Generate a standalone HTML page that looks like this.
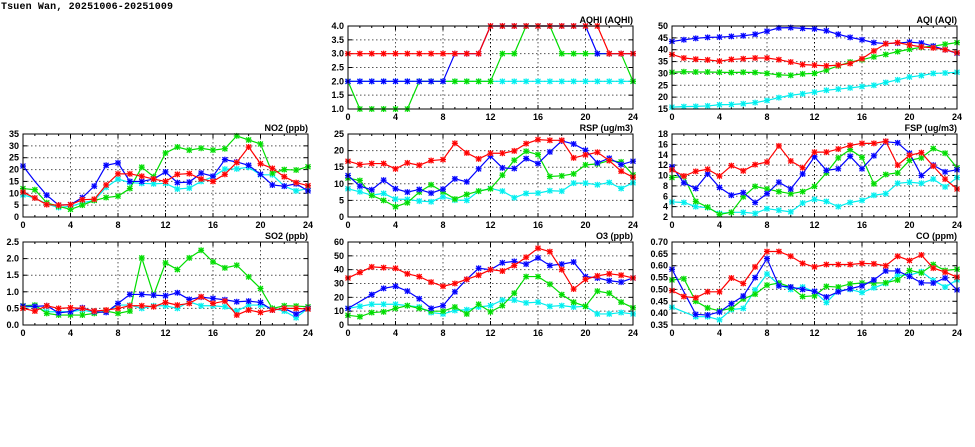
<!DOCTYPE html>
<html><head><meta charset="utf-8"><style>
html,body{margin:0;padding:0;background:#fff;width:975px;height:447px;overflow:hidden}
svg text{font-family:"Liberation Sans",sans-serif;font-weight:bold;font-size:9px;fill:#000}
.t{font-family:"Liberation Mono",monospace;font-size:10px}
</style></head><body>
<svg id="s" width="975" height="447" xmlns="http://www.w3.org/2000/svg">
<text class="t" x="1" y="9" textLength="172">Tsuen Wan, 20251006-20251009</text>
<g id="p0" transform="translate(348,26)"><text x="285" y="-3" text-anchor="end">AQHI (AQHI)</text>
<g text-anchor="end"><text x="-4" y="3">4.0</text><text x="-4" y="16.8">3.5</text><text x="-4" y="30.7">3.0</text><text x="-4" y="44.5">2.5</text><text x="-4" y="58.3">2.0</text><text x="-4" y="72.2">1.5</text><text x="-4" y="86">1.0</text></g>
<g text-anchor="middle"><text x="0" y="94">0</text><text x="47.5" y="94">4</text><text x="95" y="94">8</text><text x="142.5" y="94">12</text><text x="190" y="94">16</text><text x="237.5" y="94">20</text><text x="285" y="94">24</text></g></g>
<g id="p1" transform="translate(672,26)"><text x="285" y="-3" text-anchor="end">AQI (AQI)</text>
<g text-anchor="end"><text x="-4" y="3">50</text><text x="-4" y="14.9">45</text><text x="-4" y="26.7">40</text><text x="-4" y="38.6">35</text><text x="-4" y="50.4">30</text><text x="-4" y="62.3">25</text><text x="-4" y="74.1">20</text><text x="-4" y="86">15</text></g>
<g text-anchor="middle"><text x="0" y="94">0</text><text x="47.5" y="94">4</text><text x="95" y="94">8</text><text x="142.5" y="94">12</text><text x="190" y="94">16</text><text x="237.5" y="94">20</text><text x="285" y="94">24</text></g></g>
<g id="p2" transform="translate(23,134)"><text x="285" y="-3" text-anchor="end">NO2 (ppb)</text>
<g text-anchor="end"><text x="-4" y="3">35</text><text x="-4" y="14.9">30</text><text x="-4" y="26.7">25</text><text x="-4" y="38.6">20</text><text x="-4" y="50.4">15</text><text x="-4" y="62.3">10</text><text x="-4" y="74.1">5</text><text x="-4" y="86">0</text></g>
<g text-anchor="middle"><text x="0" y="94">0</text><text x="47.5" y="94">4</text><text x="95" y="94">8</text><text x="142.5" y="94">12</text><text x="190" y="94">16</text><text x="237.5" y="94">20</text><text x="285" y="94">24</text></g></g>
<g id="p3" transform="translate(348,134)"><text x="285" y="-3" text-anchor="end">RSP (ug/m3)</text>
<g text-anchor="end"><text x="-4" y="3">25</text><text x="-4" y="19.6">20</text><text x="-4" y="36.2">15</text><text x="-4" y="52.8">10</text><text x="-4" y="69.4">5</text><text x="-4" y="86">0</text></g>
<g text-anchor="middle"><text x="0" y="94">0</text><text x="47.5" y="94">4</text><text x="95" y="94">8</text><text x="142.5" y="94">12</text><text x="190" y="94">16</text><text x="237.5" y="94">20</text><text x="285" y="94">24</text></g></g>
<g id="p4" transform="translate(672,134)"><text x="285" y="-3" text-anchor="end">FSP (ug/m3)</text>
<g text-anchor="end"><text x="-4" y="3">18</text><text x="-4" y="13.4">16</text><text x="-4" y="23.8">14</text><text x="-4" y="34.1">12</text><text x="-4" y="44.5">10</text><text x="-4" y="54.9">8</text><text x="-4" y="65.3">6</text><text x="-4" y="75.6">4</text><text x="-4" y="86">2</text></g>
<g text-anchor="middle"><text x="0" y="94">0</text><text x="47.5" y="94">4</text><text x="95" y="94">8</text><text x="142.5" y="94">12</text><text x="190" y="94">16</text><text x="237.5" y="94">20</text><text x="285" y="94">24</text></g></g>
<g id="p5" transform="translate(23,242)"><text x="285" y="-3" text-anchor="end">SO2 (ppb)</text>
<g text-anchor="end"><text x="-4" y="3">2.5</text><text x="-4" y="19.6">2.0</text><text x="-4" y="36.2">1.5</text><text x="-4" y="52.8">1.0</text><text x="-4" y="69.4">0.5</text><text x="-4" y="86">0.0</text></g>
<g text-anchor="middle"><text x="0" y="94">0</text><text x="47.5" y="94">4</text><text x="95" y="94">8</text><text x="142.5" y="94">12</text><text x="190" y="94">16</text><text x="237.5" y="94">20</text><text x="285" y="94">24</text></g></g>
<g id="p6" transform="translate(348,242)"><text x="285" y="-3" text-anchor="end">O3 (ppb)</text>
<g text-anchor="end"><text x="-4" y="3">60</text><text x="-4" y="16.8">50</text><text x="-4" y="30.7">40</text><text x="-4" y="44.5">30</text><text x="-4" y="58.3">20</text><text x="-4" y="72.2">10</text><text x="-4" y="86">0</text></g>
<g text-anchor="middle"><text x="0" y="94">0</text><text x="47.5" y="94">4</text><text x="95" y="94">8</text><text x="142.5" y="94">12</text><text x="190" y="94">16</text><text x="237.5" y="94">20</text><text x="285" y="94">24</text></g></g>
<g id="p7" transform="translate(672,242)"><text x="285" y="-3" text-anchor="end">CO (ppm)</text>
<g text-anchor="end"><text x="-4" y="3">0.70</text><text x="-4" y="14.9">0.65</text><text x="-4" y="26.7">0.60</text><text x="-4" y="38.6">0.55</text><text x="-4" y="50.4">0.50</text><text x="-4" y="62.3">0.45</text><text x="-4" y="74.1">0.40</text><text x="-4" y="86">0.35</text></g>
<g text-anchor="middle"><text x="0" y="94">0</text><text x="47.5" y="94">4</text><text x="95" y="94">8</text><text x="142.5" y="94">12</text><text x="190" y="94">16</text><text x="237.5" y="94">20</text><text x="285" y="94">24</text></g></g>
</svg>
<script>
var W=285,H=83,NS="http://www.w3.org/2000/svg";
var C={b:"#0000ff",g:"#00dd00",r:"#ff0000",c:"#00eeee"},L={b:"#9999ff",g:"#99ee99",r:"#ff9999",c:"#99ffff"};
var P=[
[1,4,6,{g:[2,1,1,1,1,1,2,2,2,2,2,2,2,3,3,4,4,4,3,3,3,3,3,3,2],c:[2,2,2,2,2,2,2,2,2,2,2,2,2,2,2,2,2,2,2,2,2,2,2,2,2],b:[2,2,2,2,2,2,2,2,2,3,3,3,4,4,4,4,4,4,4,4,4,3,3,3,3],r:[3,3,3,3,3,3,3,3,3,3,3,3,4,4,4,4,4,4,4,4,4,4,3,3,3]},{}],
[15,50,7,{c:[15.8,16,16.1,16.3,16.8,16.9,17.2,17.7,18.6,19.8,20.8,21.4,22.1,22.9,23.4,23.9,24.5,25,26.2,27.3,28.5,29.1,30,30.2,30.5],g:[30.5,30.7,30.6,30.6,30.5,30.4,30.5,30.4,30,29.4,29.2,29.8,30,31.4,33.2,34.8,35.8,37,38,39.2,40.2,41,41.5,42.3,43],r:[38,36.5,36,35.7,35.2,35.9,36.2,36.5,36.5,35.8,34.8,33.7,33.5,33.2,33.5,34.2,36.2,39.5,42.5,43,42,41.2,40.8,40,38.7],b:[43.5,44.2,44.8,45.2,45.3,45.6,45.9,46.5,47.8,49.2,49.3,49,48.8,48,46.5,45.2,44.2,43,42.6,42.8,43.2,42.8,41.5,40,38.5]},{}],
[0,35,7,{c:[9.3,8,5.5,4,4.5,6,7,12.5,16,14.5,14.2,14,14.2,11.8,12.2,15,17,20.2,20.3,21,17.8,17.8,13,11,12],g:[12,11.5,6,4.5,3.2,5,7,8.2,8.8,12,21,17,27,29.5,28.2,29,28.2,28.8,34.2,32.5,30.8,18.5,20,19.8,21.2],r:[10.5,8,5.2,5,5.2,7.3,7.5,13.5,18.2,18.2,17.2,16,15,18,18.3,16,15,18,23,29.5,22.5,20.5,17,14.5,13.2],b:[21.5,15,9.2,5,5.2,8.2,13,21.8,22.8,15,15,16,19,14.5,14.7,18.5,17.2,24.2,23.2,21.8,18,13.5,13,14,11]},{b:1}],
[0,25,5,{c:[8.5,7.6,6.6,7.1,5.4,5.3,4.8,4.6,6.1,5.1,5,7.8,8.6,7.8,5.8,7.1,7.2,7.9,7.8,10.2,10.2,9.7,10.4,8.6,10.3],g:[11.7,11,6.5,5,3.1,4.3,7.5,9.7,7.6,5.4,6.8,7.8,8.5,12.6,17.1,19.8,18.8,12.2,12.4,13,15.7,16,17,16.6,12.7],b:[12.5,9.3,8.2,11.1,8.5,7.5,8.3,7.2,8.4,11.5,10.6,14.5,18.3,14.8,14.6,17.6,16.1,19.6,22.9,22,20.1,16.3,17.7,15.8,16.8],r:[16.8,15.8,16.1,16.1,14.5,16.3,15.6,17,17.3,22.2,19.3,17.5,19.2,19.2,19.9,22.1,23.3,23.1,23.1,17.8,18.7,19.5,17,13.8,12]},{}],
[2,18,8,{c:[4.9,4.8,4,3.8,2.7,2.9,2.9,2.7,3.6,3.3,3,4.7,5.4,5,4,4.8,5.2,6.2,6.5,8.5,8.7,8.5,9.3,7.8,9.6],g:[9.6,9.8,5,3.9,2.5,2.9,5.9,7.9,7.4,6.9,6.5,6.9,7.9,10.5,13.4,15,13.5,8.4,10.2,10.5,12.9,13.4,15.2,14.3,11.5],b:[11.7,8.6,7.5,10.3,7.7,6.2,6.7,4.8,6.5,8.7,7.4,10.3,13.6,11,11.3,13.7,11.3,13.8,16.5,16.3,14.3,10,12,10.7,11.1],r:[11.1,9.9,10.8,11.2,9.9,11.9,10.9,12.1,12.6,15.7,12.8,11.5,14.5,14.5,15.1,15.8,16.2,16.2,16.6,12,13.9,14.4,11.8,9.3,7.4]},{}],
[0,2.5,5,{c:[0.55,0.55,0.4,0.4,0.4,0.45,0.38,0.4,0.6,0.6,0.5,0.58,0.58,0.5,0.7,0.58,0.58,0.55,0.42,0.6,0.6,0.5,0.42,0.22,0.5],g:[0.58,0.6,0.35,0.3,0.3,0.3,0.35,0.42,0.35,0.42,2.02,0.9,1.87,1.67,2.02,2.25,1.9,1.72,1.8,1.45,1.1,0.5,0.58,0.57,0.55],b:[0.57,0.56,0.58,0.37,0.4,0.52,0.4,0.38,0.65,0.92,0.92,0.9,0.88,0.97,0.77,0.84,0.8,0.76,0.7,0.72,0.68,0.45,0.5,0.33,0.5],r:[0.5,0.42,0.58,0.5,0.52,0.5,0.42,0.45,0.5,0.58,0.58,0.55,0.68,0.6,0.65,0.85,0.65,0.72,0.3,0.45,0.38,0.45,0.5,0.5,0.48]},{}],
[0,60,6,{c:[12,13.5,15,15,15,14,13,9,8,10.5,11,13,14,18,18,16,16.5,13.5,14,13,13.5,8,8,9,8],g:[7,6,9,9.5,12,14,12,10,10,13,8,15,9.5,14,23,35,35,29.5,22,16.5,13.5,24.5,23,16.5,12.5],b:[12,17,22,26.5,28,24.5,19,12,14,24,33,41,40,45,46,44,48.5,43,44,45.5,35,34,32,31,34],r:[34,38,42,41.5,41,37,35,31,28,30,33,36,40,39,43,49,55.5,53,40,26,33,35.5,37,36,34]},{b:1}],
[0.35,0.70,7,{c:[.425,.405,.385,.385,.372,.415,.42,.498,.565,.52,.5,.51,.49,.445,.495,.5,.487,.507,.525,.56,.56,.575,.538,.51,.54],g:[.54,.545,.45,.422,.41,.42,.46,.48,.518,.527,.51,.47,.473,.513,.51,.523,.527,.527,.528,.54,.58,.57,.605,.58,.585],b:[.585,.49,.395,.392,.405,.44,.472,.55,.63,.515,.51,.5,.492,.468,.49,.503,.515,.54,.578,.578,.555,.528,.527,.548,.498],r:[.495,.47,.465,.49,.49,.548,.525,.595,.66,.66,.64,.61,.595,.605,.605,.605,.61,.608,.60,.64,.622,.645,.59,.573,.552]},{b:1,c:1}]
];
function el(g,n,a){var e=document.createElementNS(NS,n);for(var k in a)e.setAttribute(k,a[k]);g.appendChild(e);return e;}
P.forEach(function(p,i){
 var g=document.getElementById("p"+i),mn=p[0],mx=p[1],n=p[2],d=p[3],skip=p[4];
 for(var j=1;j<n;j++){var y=H*j/n;el(g,"line",{x1:0,x2:W,y1:y,y2:y,stroke:"#555","stroke-width":1,"stroke-dasharray":"1.5,2.5"});
   el(g,"line",{x1:0,x2:4,y1:y,y2:y,stroke:"#000"});el(g,"line",{x1:W-4,x2:W,y1:y,y2:y,stroke:"#000"});}
 for(var j=1;j<6;j++){var x=W*j/6;el(g,"line",{x1:x,x2:x,y1:0,y2:H,stroke:j==3?"#000":"#555","stroke-width":1,"stroke-dasharray":"1.5,2.5"});}
 for(var h=1;h<24;h++){var x=W*h/24,t=h%4?2:4;el(g,"line",{x1:x,x2:x,y1:H,y2:H-t,stroke:"#000"});el(g,"line",{x1:x,x2:x,y1:0,y2:t,stroke:"#000"});}
 ["c","g","b","r"].forEach(function(k){var v=d[k];if(!v)return;
  var pts=v.map(function(y,h){return [W*h/24,H-(y-mn)/(mx-mn)*H];});
  el(g,"polyline",{points:pts.map(function(q){return q.join(",")}).join(" "),fill:"none",stroke:C[k],"stroke-width":1.2});
  pts.forEach(function(q,h){if(h==1&&skip[k])return;
   el(g,"rect",{x:q[0]-2.5,y:q[1]-2.5,width:5,height:5,fill:L[k],opacity:0.8});
   el(g,"path",{d:"M"+(q[0]-2.5)+","+(q[1]-2.5)+"l5,5m0,-5l-5,5M"+q[0]+","+(q[1]-3)+"v6M"+(q[0]-3)+","+q[1]+"h6",stroke:C[k],"stroke-width":1.1,fill:"none"});});
 });
 el(g,"rect",{x:0,y:0,width:W,height:H,fill:"none",stroke:"#000","stroke-width":1});
});
</script>
</body></html>
